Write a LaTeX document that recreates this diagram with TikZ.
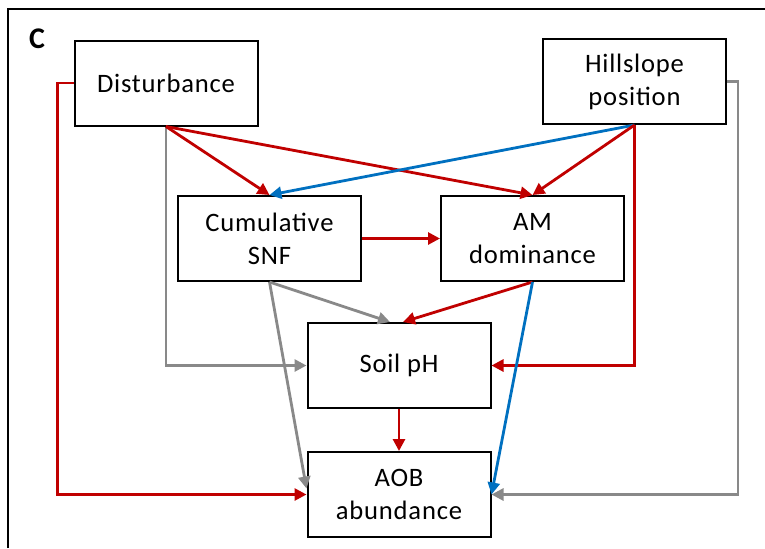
\documentclass[tikz,border=0pt]{standalone}
\usepackage{fontspec}
\setmainfont{Carlito}[LetterSpace=3]
\usepackage{tikz}
\usetikzlibrary{positioning, arrows.meta}
\definecolor{pathred}{RGB}{192,0,0}
\definecolor{pathblue}{RGB}{0,112,192}
\definecolor{pathgray}{RGB}{137,137,137}

\begin{document}
\begin{tikzpicture}[
    x=0.5pt, y=-0.5pt,
    font=\fontsize{13.3}{16.5}\selectfont,
    box/.style={draw, line width=1pt, minimum width=91.5pt, minimum height=42.5pt,
                align=center, inner sep=3pt},
    arr/.style={-{Triangle[length=6pt, width=6pt]}, line width=1.4pt},
]
\useasboundingbox (0,0) rectangle (765,548);

% ── Panel frame ──────────────────────────────────────────────
\draw[line width=1pt] (8,548) |- (765,9);
\node[font=\bfseries\fontsize{15}{15}\selectfont] (panel) at (37,39) {C};

% ── Top row ──────────────────────────────────────────────────
\node[box] (dist) at (166,83) {Disturbance};
\node[box] (hill) at (634.5,81.5) {Hillslope\\position};

% ── Middle row ───────────────────────────────────────────────
\node[box] (cumul) at (269.5,238.5) {Cumulative\\SNF};
\node[box, right=39pt of cumul] (amdom) {AM\\dominance};

% ── Bottom ───────────────────────────────────────────────────
\node[box] (soilph) at (399,365.5) {Soil pH};
\node[box, below=21pt of soilph] (aob) {AOB\\abundance};

% ── From disturbance ─────────────────────────────────────────
\draw[arr, pathred] (dist.west) -- ++(-16,0) |- (aob.west);
\draw[arr, pathgray] (dist.south) |- (soilph.west);
\draw[arr, pathred] (dist.south) -- (cumul.north);
\draw[arr, pathred] (dist.south) -- (amdom.north);

% ── From hillslope position ──────────────────────────────────
\draw[arr, pathblue] (hill.south) -- (cumul.north);
\draw[arr, pathred] (hill.south) -- (amdom.north);
\draw[arr, pathred] (hill.south) |- (soilph.east);
\draw[arr, pathgray] (hill.east) -- ++(11,0) |- (aob.east);

% ── Middle links ─────────────────────────────────────────────
\draw[arr, pathred] (cumul) -- (amdom);
\draw[arr, pathgray] (cumul.south) -- ([xshift=-4.5pt]soilph.north);
\draw[arr, pathgray] (cumul.south) -- ([yshift=3pt]aob.west);
\draw[arr, pathred] (amdom.south) -- ([xshift=2pt]soilph.north);
\draw[arr, pathblue] (amdom.south) -- (aob.east);
\draw[arr, pathred] (soilph) -- (aob);

\end{tikzpicture}
\end{document}
